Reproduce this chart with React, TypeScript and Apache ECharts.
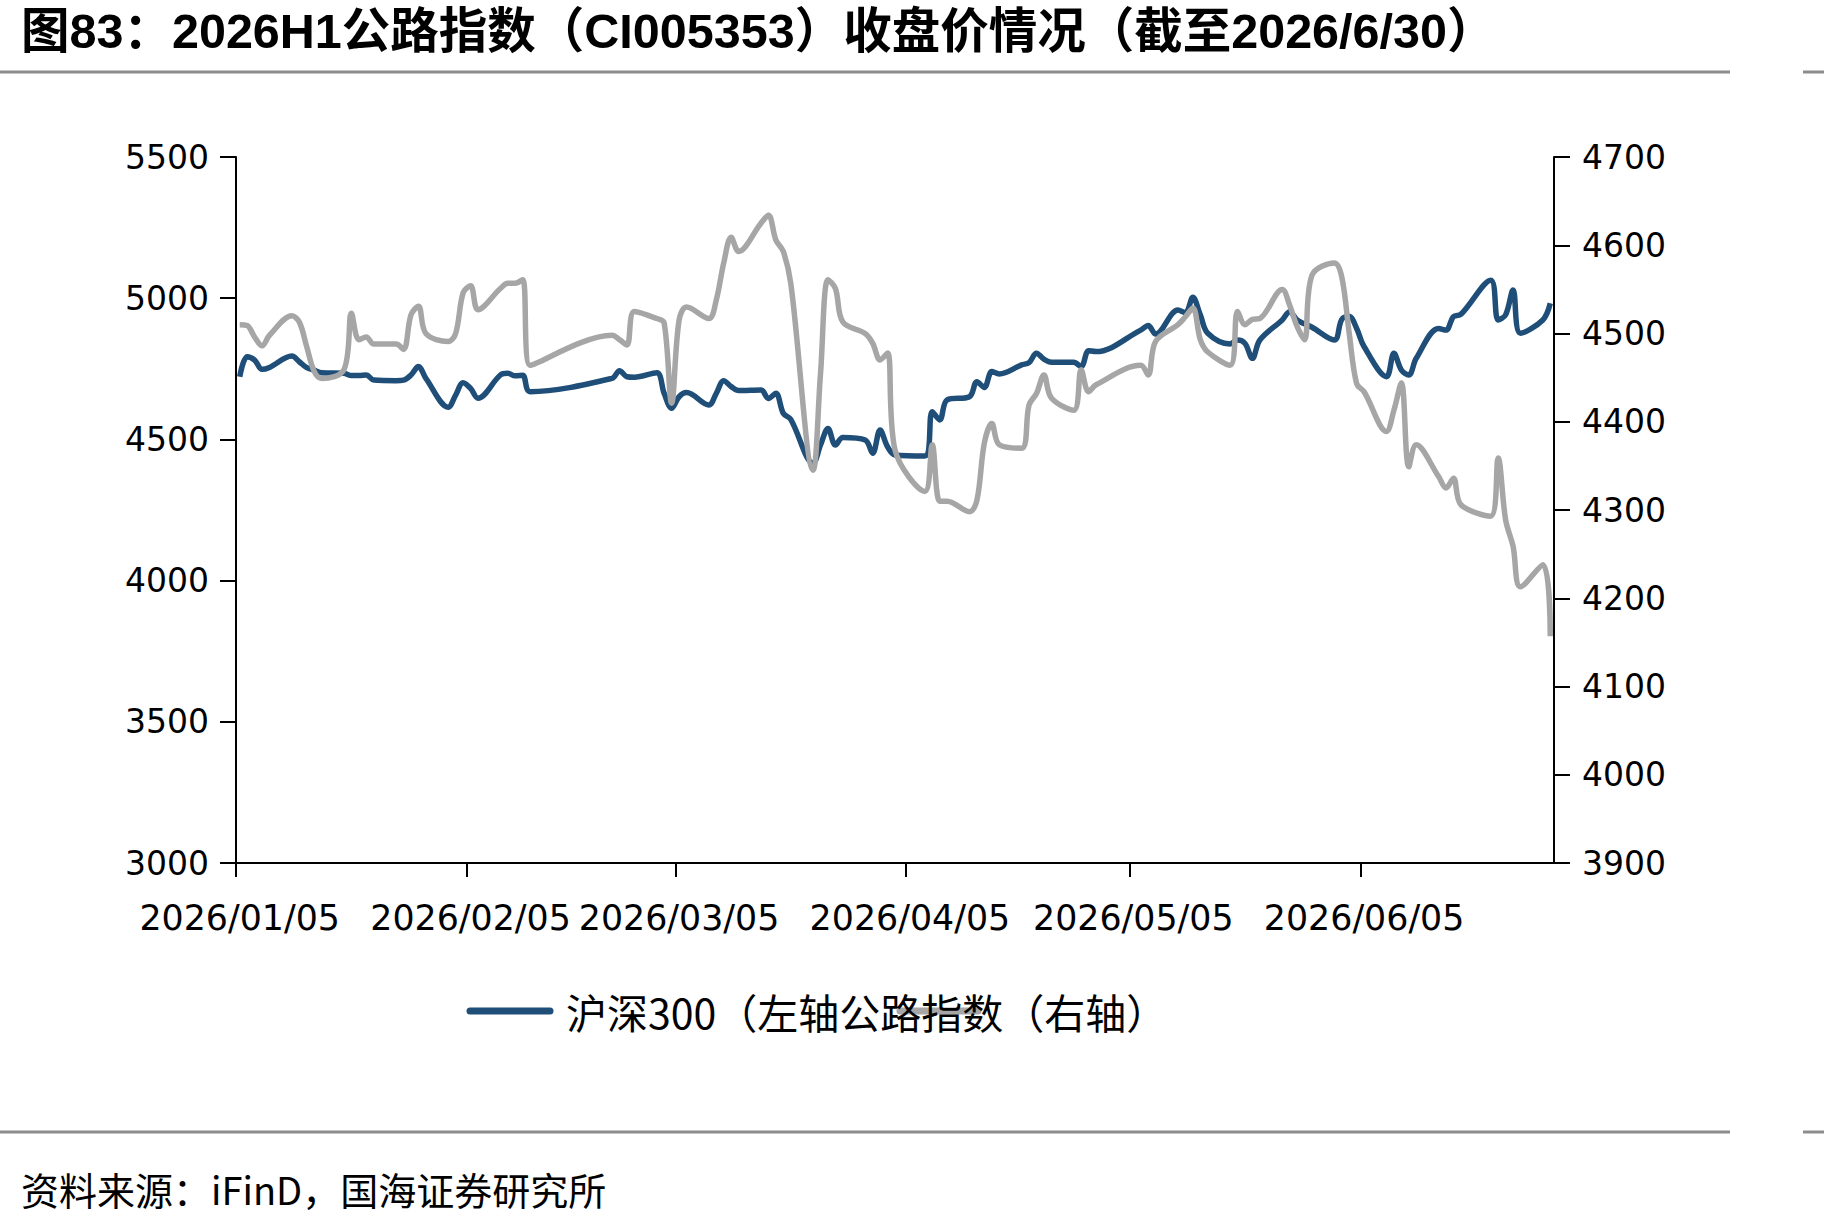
import React, { useEffect, useRef } from "react";
import * as echarts from "echarts";

// Trading days of 2026 H1 (Shanghai / Shenzhen calendar)
const TRADE_DATES = [
  "2026-01-05", "2026-01-06", "2026-01-07", "2026-01-08", "2026-01-09",
  "2026-01-12", "2026-01-13", "2026-01-14", "2026-01-15", "2026-01-16",
  "2026-01-19", "2026-01-20", "2026-01-21", "2026-01-22", "2026-01-23",
  "2026-01-26", "2026-01-27", "2026-01-28", "2026-01-29", "2026-01-30",
  "2026-02-02", "2026-02-03", "2026-02-04", "2026-02-05", "2026-02-06",
  "2026-02-09", "2026-02-10", "2026-02-11", "2026-02-12", "2026-02-13",
  "2026-02-24", "2026-02-25", "2026-02-26", "2026-02-27",
  "2026-03-02", "2026-03-03", "2026-03-04", "2026-03-05", "2026-03-06",
  "2026-03-09", "2026-03-10", "2026-03-11", "2026-03-12", "2026-03-13",
  "2026-03-16", "2026-03-17", "2026-03-18", "2026-03-19", "2026-03-20",
  "2026-03-23", "2026-03-24", "2026-03-25", "2026-03-26", "2026-03-27",
  "2026-03-30", "2026-03-31",
  "2026-04-01", "2026-04-02", "2026-04-03",
  "2026-04-07", "2026-04-08", "2026-04-09", "2026-04-10",
  "2026-04-13", "2026-04-14", "2026-04-15", "2026-04-16", "2026-04-17",
  "2026-04-20", "2026-04-21", "2026-04-22", "2026-04-23", "2026-04-24",
  "2026-04-27", "2026-04-28", "2026-04-29", "2026-04-30",
  "2026-05-06", "2026-05-07", "2026-05-08",
  "2026-05-11", "2026-05-12", "2026-05-13", "2026-05-14", "2026-05-15",
  "2026-05-18", "2026-05-19", "2026-05-20", "2026-05-21", "2026-05-22",
  "2026-05-25", "2026-05-26", "2026-05-27", "2026-05-28", "2026-05-29",
  "2026-06-01", "2026-06-02", "2026-06-03", "2026-06-04", "2026-06-05",
  "2026-06-08", "2026-06-09", "2026-06-10", "2026-06-11", "2026-06-12",
  "2026-06-15", "2026-06-16", "2026-06-17", "2026-06-18",
  "2026-06-22", "2026-06-23", "2026-06-24", "2026-06-25", "2026-06-26",
  "2026-06-29", "2026-06-30",
];

// CSI 300 close (left axis)
const HS300 = [
  4722, 4793, 4781, 4748, 4755, 4795, 4775, 4754, 4745, 4736,
  4734, 4726, 4726, 4728, 4710, 4708, 4710, 4728, 4758, 4716,
  4614, 4657, 4701, 4681, 4646, 4728, 4734, 4725, 4727, 4669,
  4716, 4743, 4722, 4720,
  4736, 4663, 4610, 4651, 4666, 4622, 4663, 4708, 4687, 4673,
  4675, 4645, 4663, 4592, 4571, 4415, 4480, 4539, 4480, 4507,
  4498, 4451,
  4533, 4474, 4445, 4441, 4598, 4569, 4640, 4651, 4704, 4684,
  4740, 4732, 4764, 4772, 4805, 4784, 4773, 4773, 4758, 4814, 4811,
  4887, 4903, 4873, 4958, 4949, 5003, 4941, 4876, 4838, 4852,
  4840, 4787, 4852, 4923, 4952, 4923, 4909, 4897,
  4852, 4925, 4935, 4893, 4828, 4722, 4805, 4746, 4728, 4787,
  4893, 4887, 4935, 4943, 5064, 4923, 4941, 5029, 4876, 4923, 4982,
];

// Highway index CI005353 close (right axis)
const ROAD_INDEX = [
  4510, 4509, 4496, 4486, 4498, 4520, 4513, 4485, 4457, 4449,
  4459, 4523, 4493, 4496, 4488, 4488, 4482, 4521, 4531, 4500,
  4491, 4500, 4546, 4554, 4527, 4551, 4557, 4557, 4561, 4464,
  4498, 4493, 4487, 4525,
  4517, 4512, 4421, 4515, 4530, 4517, 4538, 4580, 4609, 4593,
  4625, 4634, 4606, 4593, 4557, 4345, 4455, 4561, 4551, 4513,
  4500, 4489,
  4470, 4478, 4368, 4321, 4374, 4310, 4310, 4298, 4311, 4376,
  4398, 4374, 4370, 4419, 4432, 4453, 4427, 4413, 4459, 4434, 4442,
  4464, 4453, 4491, 4510, 4519, 4529, 4493, 4479, 4464, 4525,
  4510, 4516, 4517, 4550, 4532, 4508, 4493, 4566,
  4580, 4564, 4500, 4443, 4434, 4389, 4413, 4444, 4349, 4374,
  4338, 4325, 4336, 4306, 4293, 4359, 4289, 4259, 4213, 4238, 4157,
];

const X_TICK_DATES = ["2026/01/05", "2026/02/05", "2026/03/05", "2026/04/05", "2026/05/05", "2026/06/05"];
const X_START_DATE = "2026/01/05";
const X_END_DATE = "2026/07/01";

const SERIES_NAMES = ["沪深300（左轴", "公路指数（右轴）"];
const TITLE = "图83：2026H1公路指数（CI005353）收盘价情况（截至2026/6/30）";
const SOURCE = "资料来源：iFinD，国海证券研究所";

const BLUE = "#1F4E79";
const GREY = "#A6A6A6";
const RULE = "#8C8C8C";
const CJK = '"Noto Sans CJK SC", "Noto Sans", sans-serif';
const TITLE_FONT = '"Liberation Sans", "Noto Sans CJK SC", sans-serif';
const AXIS_FONT = '"DejaVu Sans", Verdana, sans-serif';

const dayIndex = (s: string) => {
  const [y, m, d] = s.split(/[-/]/).map(Number);
  return Math.round((Date.UTC(y, m - 1, d) - Date.UTC(2026, 0, 5)) / 86400000);
};

export default function App() {
  const ref = useRef<HTMLDivElement>(null);

  useEffect(() => {
    if (!ref.current) return;
    const chart = echarts.init(ref.current, undefined, { renderer: "svg" });

    const start = dayIndex(X_START_DATE);
    const end = dayIndex(X_END_DATE);
    const tickDays = X_TICK_DATES.map(dayIndex);
    // each day's point sits in the middle of its day slot
    const labelDays = tickDays.map((d) => d + 0.5);
    const labelFor = (v: number) => {
      const i = labelDays.findIndex((d) => Math.abs(d - v) < 0.01);
      return i >= 0 ? X_TICK_DATES[i] : "";
    };
    const xs = TRADE_DATES.map((d) => dayIndex(d) + 0.5);

    const axisLine = { show: true, lineStyle: { color: "#000", width: 2 } };
    const axisTick = { show: true, length: 16, lineStyle: { color: "#000", width: 2 } };
    const plain = (v: number) => String(v);

    chart.setOption({
      animation: false,
      backgroundColor: "#fff",
      grid: { left: 236, right: 270, top: 157, bottom: 357, outerBoundsMode: "none" },
      xAxis: {
        type: "value",
        min: start,
        max: end,
        axisLine: { ...axisLine, onZero: false },
        axisTick: { ...axisTick, length: 14, customValues: tickDays },
        axisLabel: {
          customValues: labelDays,
          formatter: (v: number) => labelFor(v),
          color: "#000",
          fontSize: 34.8,
          fontFamily: AXIS_FONT,
          margin: 37,
        },
        splitLine: { show: false },
      },
      yAxis: [
        {
          type: "value",
          min: 3000,
          max: 5500,
          interval: 500,
          position: "left",
          axisLine,
          axisTick,
          axisLabel: { color: "#000", fontSize: 33, fontFamily: AXIS_FONT, margin: 27, formatter: plain },
          splitLine: { show: false },
        },
        {
          type: "value",
          min: 3900,
          max: 4700,
          interval: 100,
          position: "right",
          axisLine,
          axisTick,
          axisLabel: { color: "#000", fontSize: 33, fontFamily: AXIS_FONT, margin: 28, formatter: plain },
          splitLine: { show: false },
        },
      ],
      series: [
        {
          name: SERIES_NAMES[0],
          type: "line",
          yAxisIndex: 0,
          data: xs.map((x, i) => [x, HS300[i]]),
          smooth: 0.35,
          showSymbol: false,
          lineStyle: { color: BLUE, width: 5.5 },
          itemStyle: { color: BLUE },
        },
        {
          name: SERIES_NAMES[1],
          type: "line",
          yAxisIndex: 1,
          data: xs.map((x, i) => [x, ROAD_INDEX[i]]),
          smooth: 0.35,
          showSymbol: false,
          lineStyle: { color: GREY, width: 5.5 },
          itemStyle: { color: GREY },
        },
      ],
      graphic: [
        {
          type: "text",
          x: 21,
          y: 31,
          style: { text: TITLE, fill: "#000", font: `bold 48.5px ${TITLE_FONT}`, verticalAlign: "middle" },
        },
        { type: "line", shape: { x1: 0, y1: 72, x2: 1730, y2: 72 }, style: { stroke: RULE, lineWidth: 3 } },
        { type: "line", shape: { x1: 1803, y1: 72, x2: 1824, y2: 72 }, style: { stroke: RULE, lineWidth: 3 } },
        { type: "line", shape: { x1: 0, y1: 1132, x2: 1730, y2: 1132 }, style: { stroke: RULE, lineWidth: 3 } },
        { type: "line", shape: { x1: 1803, y1: 1132, x2: 1824, y2: 1132 }, style: { stroke: RULE, lineWidth: 3 } },
        // legend
        { type: "line", shape: { x1: 470, y1: 1011, x2: 550, y2: 1011 }, style: { stroke: BLUE, lineWidth: 7, lineCap: "round" } },
        { type: "line", shape: { x1: 900, y1: 1011, x2: 978, y2: 1011 }, style: { stroke: GREY, lineWidth: 7, lineCap: "round" } },
        {
          type: "text",
          x: 566,
          y: 1011,
          style: { text: SERIES_NAMES[0] + SERIES_NAMES[1], fill: "#000", font: `41px ${CJK}`, verticalAlign: "middle" },
        },
        {
          type: "text",
          x: 21,
          y: 1188,
          style: { text: SOURCE, fill: "#000", font: `38px ${CJK}`, verticalAlign: "middle" },
        },
      ],
    });

    return () => chart.dispose();
  }, []);

  return (
    <div
      ref={ref}
      style={{ position: "fixed", left: 0, top: 0, width: 1824, height: 1220, background: "#fff" }}
    />
  );
}
